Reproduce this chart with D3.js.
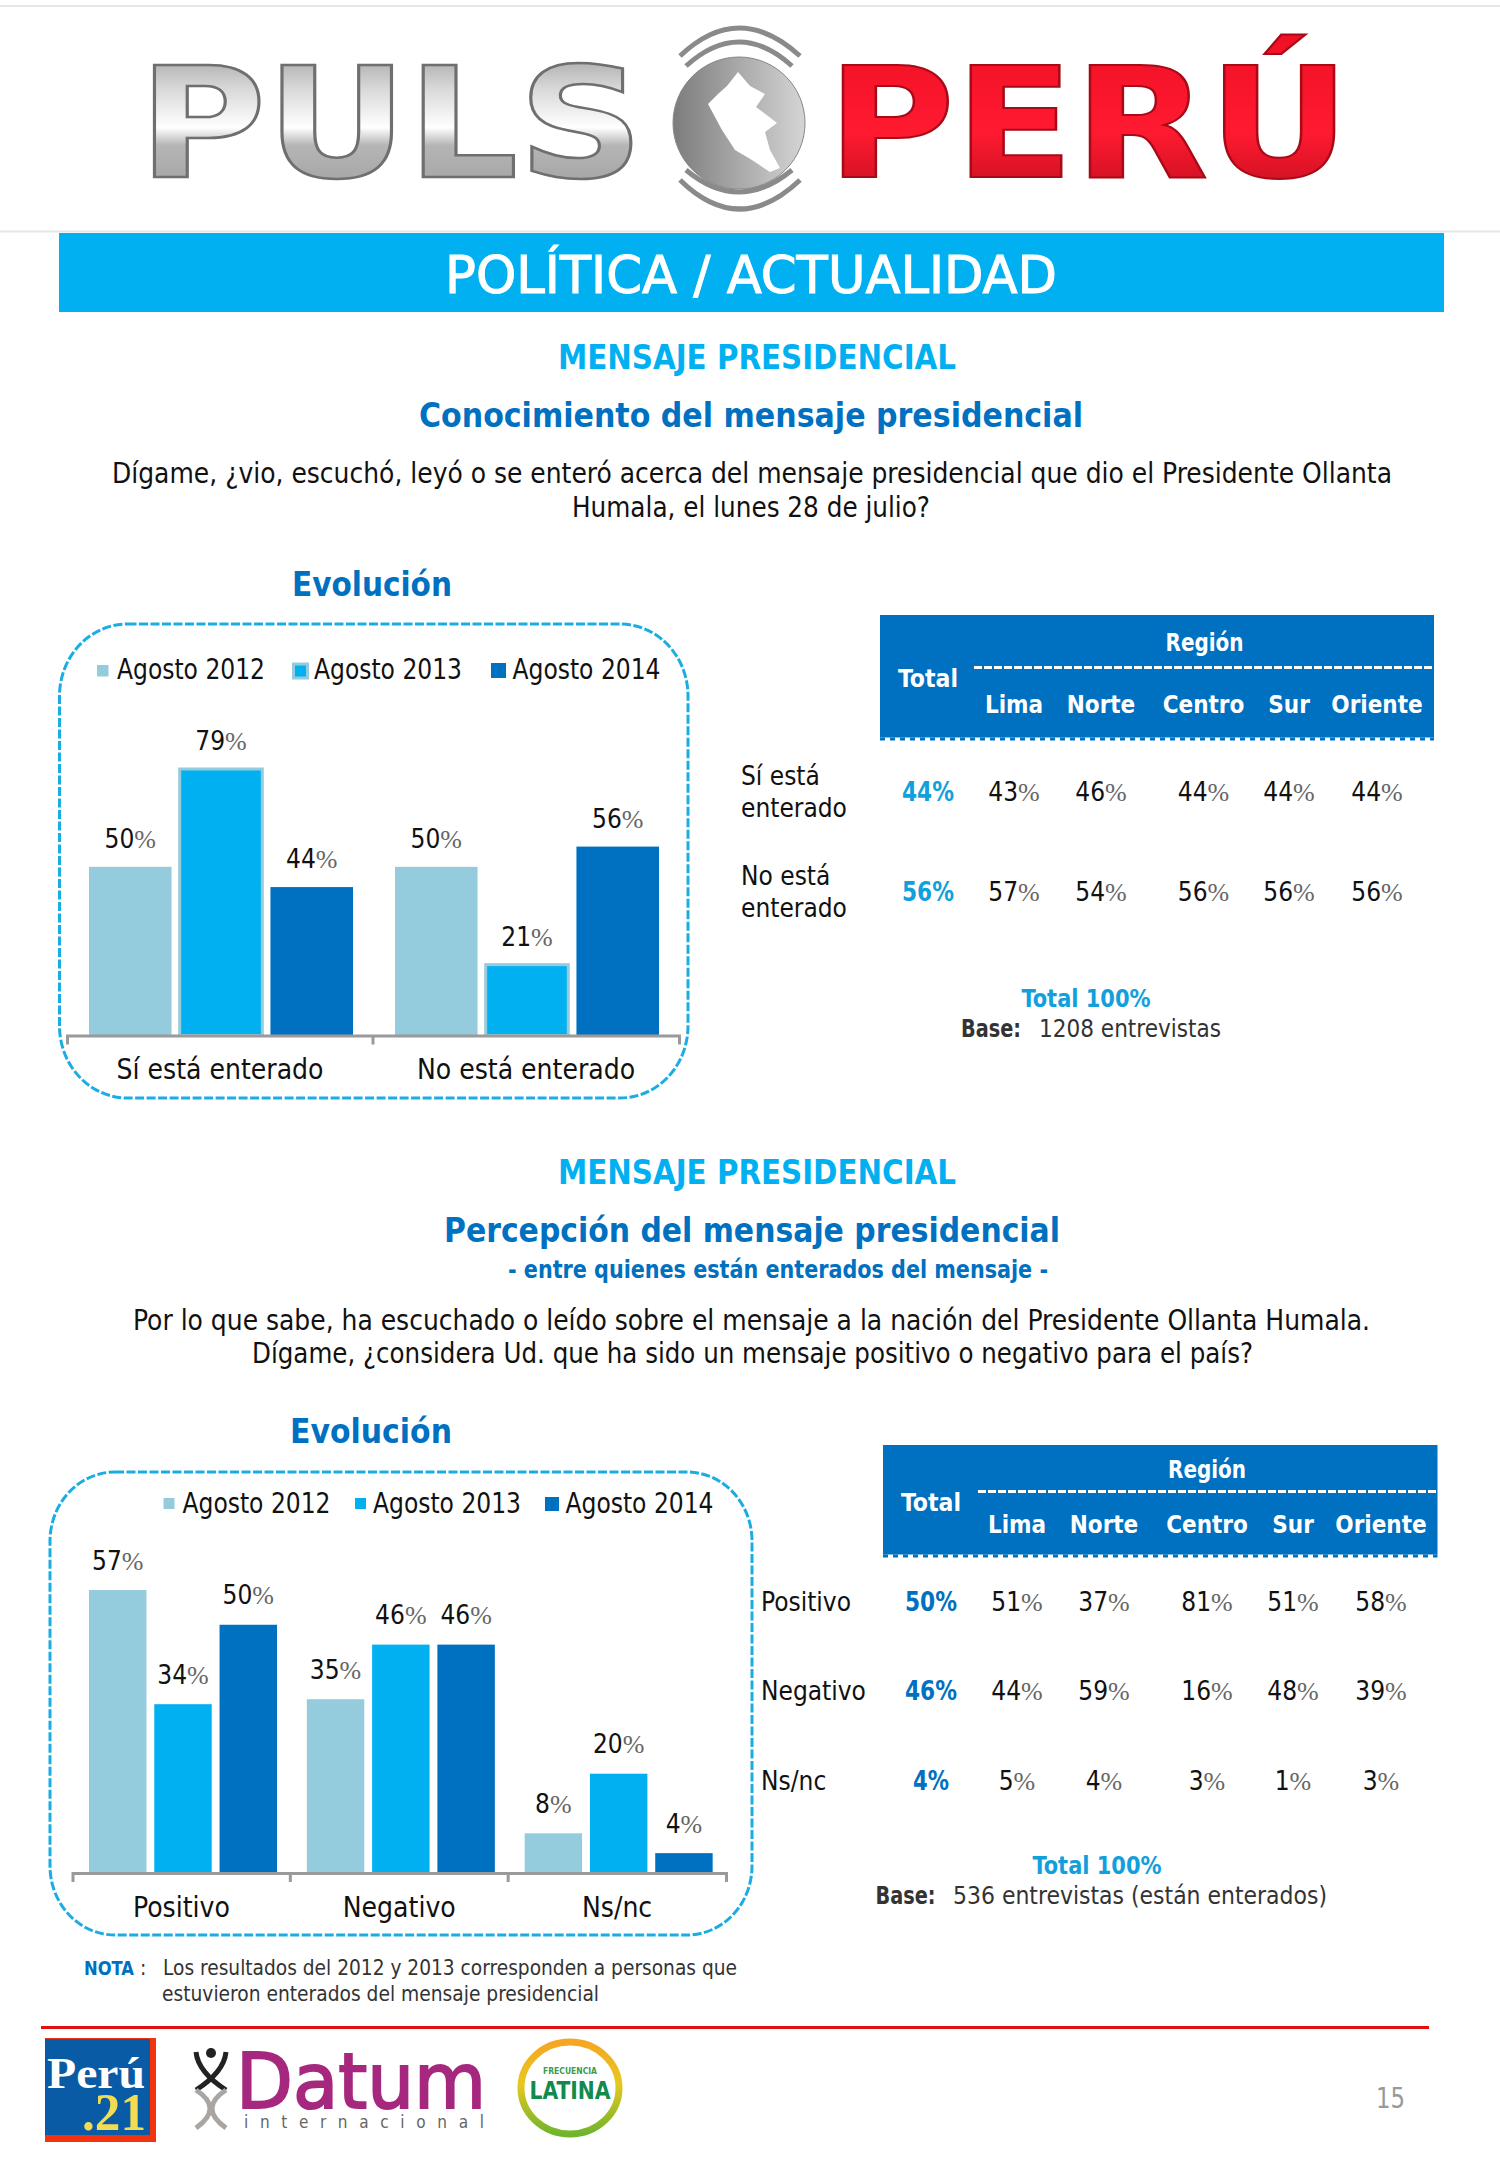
<!DOCTYPE html>
<html>
<head>
<meta charset="utf-8">
<script src="https://cdn.jsdelivr.net/npm/d3@7"></script>
<style>
  body { margin: 0; background: #fff; }
  text { font-family: "DejaVu Sans Condensed", "DejaVu Sans", "Noto Sans", sans-serif; }
</style>
</head>
<body>
<div id="page"></div>
<script>
// ---- data ----
var seriesNames = ["Agosto 2012", "Agosto 2013", "Agosto 2014"];
var seriesColors = ["#94cbdd", "#00b0f0", "#0070c0"];

var knowGroups = ["Sí está enterado", "No está enterado"];
var know2012 = [50, 50];
var know2013 = [79, 21];
var know2014 = [44, 56];

var percGroups = ["Positivo", "Negativo", "Ns/nc"];
var perc2012 = [57, 35, 8];
var perc2013 = [34, 46, 20];
var perc2014 = [50, 46, 4];

var regionNames = ["Lima", "Norte", "Centro", "Sur", "Oriente"];

var knowRowLabels = [["Sí está", "enterado"], ["No está", "enterado"]];
var knowTotal = [44, 56];
var knowRegion = [[43, 46, 44, 44, 44], [57, 54, 56, 56, 56]];

var percRowLabels = [["Positivo"], ["Negativo"], ["Ns/nc"]];
var percTotal = [50, 46, 4];
var percRegion = [[51, 37, 81, 51, 58], [44, 59, 16, 48, 39], [5, 4, 3, 1, 3]];

var darkBlue = "#0070c0";
var brightBlue = "#00b0f0";

var svg = d3.select("#page").append("svg")
    .attr("width", 1500)
    .attr("height", 2167)
    .style("display", "block");

var defs = svg.append("defs");

function gradient(id, stops, vertical) {
    var g = defs.append("linearGradient").attr("id", id)
        .attr("x1", 0).attr("y1", 0)
        .attr("x2", vertical ? 0 : 1).attr("y2", vertical ? 1 : 0);
    stops.forEach(function(s) {
        g.append("stop").attr("offset", s[0]).attr("stop-color", s[1]);
    });
}
gradient("metal", [[0, "#8d8d8d"], [0.3, "#d8d8d8"], [0.52, "#ffffff"], [0.62, "#b5b5b5"], [1, "#9a9a9a"]], true);
gradient("redmetal", [[0, "#f01025"], [0.55, "#ff1a30"], [1, "#b80c1c"]], true);
gradient("globe", [[0, "#7c7c7c"], [0.5, "#a9a9a9"], [1, "#d5d5d5"]], false);
gradient("ring", [[0, "#f5a623"], [0.45, "#e8c81e"], [1, "#6fb52c"]], true);

// plain text helper, width stretches the line to the measured width
function put(x, y, str, o) {
    o = o || {};
    var t = svg.append("text")
        .attr("x", x).attr("y", y)
        .attr("font-size", o.size || 26)
        .attr("fill", o.fill || "#111")
        .attr("font-weight", o.weight || "normal")
        .attr("text-anchor", o.anchor || "start")
        .text(str);
    if (o.width) t.attr("textLength", o.width).attr("lengthAdjust", "spacingAndGlyphs");
    return t;
}

// percent value: dark digits and a narrow grey percent sign
function putPct(parent, x, y, v, size) {
    var t = parent.append("text")
        .attr("x", x).attr("y", y)
        .attr("font-size", size)
        .attr("text-anchor", "middle")
        .attr("fill", "#111");
    t.append("tspan").text(v);
    t.append("tspan").attr("fill", "#666").attr("font-family", "'Liberation Sans Narrow'").text("%");
    return t;
}

// ---- header logo ----
svg.append("line").attr("x1", 0).attr("x2", 1500).attr("y1", 6).attr("y2", 6).attr("stroke", "#e6e6e6").attr("stroke-width", 2);
svg.append("line").attr("x1", 0).attr("x2", 1500).attr("y1", 231.5).attr("y2", 231.5).attr("stroke", "#e6e6e6").attr("stroke-width", 2);

put(138.5, 177, "PULS", {size: 153, weight: "bold", fill: "url(#metal)", width: 505}).attr("stroke", "#6f6f6f").attr("stroke-width", 2.5);
put(827, 177, "PERÚ", {size: 153, weight: "bold", fill: "url(#redmetal)", width: 523}).attr("stroke", "#a90a18").attr("stroke-width", 2);

svg.append("ellipse").attr("cx", 739).attr("cy", 123).attr("rx", 66).attr("ry", 66)
    .attr("fill", "url(#globe)").attr("stroke", "#888").attr("stroke-width", 1);
svg.append("path").attr("fill", "#fff")
    .attr("d", "M738,72 L750,86 L765,94 L756,107 L768,116 L777,123 L765,132 L770,150 L780,168 L770,172 L752,160 L735,150 L722,130 L708,104 L718,94 L727,86 Z");
["M680,56 Q739,0 800,56", "M686,66 Q739,18 792,66", "M680,180 Q739,238 800,180", "M686,170 Q739,214 792,170"].forEach(function(d) {
    svg.append("path").attr("d", d).attr("fill", "none").attr("stroke", "#8a8a8a").attr("stroke-width", 5);
});

// ---- banner and section titles ----
svg.append("rect").attr("x", 59).attr("y", 233).attr("width", 1385).attr("height", 79).attr("fill", brightBlue);
put(751, 293, "POLÍTICA / ACTUALIDAD", {size: 52, fill: "#fff", anchor: "middle", width: 612})
    .attr("stroke", "#fff").attr("stroke-width", 1);

put(757, 368.5, "MENSAJE PRESIDENCIAL", {size: 34, weight: "bold", fill: brightBlue, anchor: "middle", width: 398});
put(751, 427, "Conocimiento del mensaje presidencial", {size: 34, weight: "bold", fill: darkBlue, anchor: "middle", width: 664});
put(752, 483, "Dígame, ¿vio, escuchó, leyó o se enteró acerca del mensaje presidencial que dio el Presidente Ollanta", {size: 28, anchor: "middle", width: 1280});
put(751, 517, "Humala, el lunes 28 de julio?", {size: 28, anchor: "middle", width: 358});

put(757, 1184, "MENSAJE PRESIDENCIAL", {size: 34, weight: "bold", fill: brightBlue, anchor: "middle", width: 398});
put(752, 1241.5, "Percepción del mensaje presidencial", {size: 34, weight: "bold", fill: darkBlue, anchor: "middle", width: 616});
put(778, 1278, "- entre quienes están enterados del mensaje -", {size: 24, weight: "bold", fill: darkBlue, anchor: "middle", width: 540});
put(751.5, 1330, "Por lo que sabe, ha escuchado o leído sobre el mensaje a la nación del Presidente Ollanta Humala.", {size: 28, anchor: "middle", width: 1237});
put(752.5, 1363, "Dígame, ¿considera Ud. que ha sido un mensaje positivo o negativo para el país?", {size: 28, anchor: "middle", width: 1001});

// ---- grouped bar panels ----
function barPanel(cfg) {
    svg.append("rect")
        .attr("x", cfg.frame[0]).attr("y", cfg.frame[1])
        .attr("width", cfg.frame[2] - cfg.frame[0]).attr("height", cfg.frame[3] - cfg.frame[1])
        .attr("rx", cfg.rx).attr("ry", cfg.rx + 4)
        .attr("fill", "none").attr("stroke", "#1aade4")
        .attr("stroke-width", 3).attr("stroke-dasharray", "9 2.5");

    put(cfg.title[0], cfg.title[1], "Evolución", {size: 34, weight: "bold", fill: darkBlue, width: cfg.title[2]});

    var x0 = d3.scaleBand().domain(cfg.groups).range(cfg.axisX);
    var x1 = d3.scaleBand().domain(seriesNames).range(cfg.inner).paddingInner(cfg.pad);
    var y = d3.scaleLinear().domain([0, d3.max(cfg.values, function(s) { return d3.max(s); })]).range([cfg.base, cfg.top]);

    // legend
    seriesNames.forEach(function(name, i) {
        var l = cfg.legend[i];
        svg.append("rect").attr("x", l[0]).attr("y", l[1]).attr("width", l[2]).attr("height", l[2])
            .attr("fill", seriesColors[i])
            .attr("stroke", (cfg.edged && i == 1) ? seriesColors[0] : "none")
            .attr("stroke-width", 3);
        put(l[3], cfg.legendY, name, {size: 28, width: 148});
    });

    // bars
    cfg.groups.forEach(function(group, g) {
        var gx = svg.append("g").attr("transform", "translate(" + x0(group) + ",0)");
        seriesNames.forEach(function(name, i) {
            var v = cfg.values[i][g];
            gx.append("rect")
                .attr("x", x1(name))
                .attr("y", y(v))
                .attr("width", x1.bandwidth())
                .attr("height", cfg.base - y(v))
                .attr("fill", seriesColors[i])
                .attr("stroke", (cfg.edged && i == 1) ? seriesColors[0] : "none")
                .attr("stroke-width", 3);
            putPct(gx, x1(name) + x1.bandwidth() / 2, y(v) - cfg.labelGap, v, 26);
        });
    });

    // axis: outer ticks from the axis itself, inner ticks on the band edges
    var axis = svg.append("g")
        .attr("transform", "translate(0," + cfg.base + ")")
        .call(d3.axisBottom(x0).tickSizeInner(0).tickSizeOuter(9));
    axis.select(".domain").attr("stroke", "#9a9a9a").attr("stroke-width", 3);
    axis.selectAll(".tick line").remove();
    axis.selectAll(".tick text")
        .attr("y", cfg.labelDy).attr("dy", 0)
        .attr("font-size", 28).attr("fill", "#111");
    axis.attr("font-family", null);
    cfg.groups.slice(1).forEach(function(group) {
        axis.append("line").attr("x1", x0(group)).attr("x2", x0(group)).attr("y1", 0).attr("y2", 9)
            .attr("stroke", "#9a9a9a").attr("stroke-width", 3);
    });
}

barPanel({
    groups: knowGroups,
    values: [know2012, know2013, know2014],
    frame: [59.5, 624, 688, 1098], rx: 68,
    title: [292, 596, 160],
    axisX: [67, 679], inner: [22, 286], pad: 0.09,
    base: 1035.5, top: 769, labelDy: 43.5, labelGap: 19,
    legend: [[97, 665, 11.5, 117], [293.5, 664, 14, 314], [491, 663, 15, 512.5]], legendY: 679,
    edged: true
});

barPanel({
    groups: percGroups,
    values: [perc2012, perc2013, perc2014],
    frame: [50, 1472, 752, 1935], rx: 65,
    title: [290, 1442.5, 162],
    axisX: [72.5, 726], inner: [16.5, 204.5], pad: 0.12,
    base: 1873, top: 1590, labelDy: 43.5, labelGap: 20.5,
    legend: [[163.5, 1498, 11, 182.5], [355, 1498, 11, 373], [545, 1497, 14, 565.5]], legendY: 1513,
    edged: false
});

// ---- region tables ----
function regionTable(cfg) {
    svg.append("rect").attr("x", cfg.rect[0]).attr("y", cfg.rect[1])
        .attr("width", cfg.rect[2] - cfg.rect[0]).attr("height", cfg.rect[3] - cfg.rect[1])
        .attr("fill", darkBlue);
    svg.append("line").attr("x1", cfg.dashX).attr("x2", cfg.rect[2]).attr("y1", cfg.dashY).attr("y2", cfg.dashY)
        .attr("stroke", "#fff").attr("stroke-width", 3).attr("stroke-dasharray", "8 2");
    svg.append("line").attr("x1", cfg.rect[0]).attr("x2", cfg.rect[2]).attr("y1", cfg.rect[3] + 1.5).attr("y2", cfg.rect[3] + 1.5)
        .attr("stroke", darkBlue).attr("stroke-width", 3).attr("stroke-dasharray", "5 5");

    var x = d3.scaleOrdinal().domain(regionNames).range(cfg.cols);

    put(cfg.regionX, cfg.regionY, "Región", {size: 24, weight: "bold", fill: "#fff", anchor: "middle", width: 78});
    put(cfg.totalX, cfg.totalY, "Total", {size: 24, weight: "bold", fill: "#fff", anchor: "middle", width: 60});
    regionNames.forEach(function(r) {
        put(x(r), cfg.subY, r, {size: 24, weight: "bold", fill: "#fff", anchor: "middle"});
    });

    cfg.labels.forEach(function(lines, i) {
        lines.forEach(function(line, k) {
            put(cfg.labelX, cfg.labelY[i] + k * 32, line, {size: 26});
        });
        put(cfg.totalX, cfg.valueY[i], cfg.total[i] + "%", {size: 26, weight: "bold", fill: cfg.totalColor, anchor: "middle",
            width: cfg.total[i] > 9 ? 52 : 36});
        regionNames.forEach(function(r, j) {
            putPct(svg, x(r), cfg.valueY[i], cfg.region[i][j], 26);
        });
    });

    put(cfg.noteX, cfg.noteY, "Total 100%", {size: 24, weight: "bold", fill: "#12a0dc", anchor: "middle", width: 129});
    put(cfg.baseX, cfg.noteY + 30, "Base:", {size: 24, weight: "bold", fill: "#333", width: 60});
    put(cfg.baseTextX, cfg.noteY + 30, cfg.baseText, {size: 24, fill: "#333", width: cfg.baseTextW});
}

regionTable({
    rect: [880, 615, 1434, 737.5], dashX: 974, dashY: 667.5,
    cols: [1014, 1101, 1203.5, 1289, 1377],
    regionX: 1204.5, regionY: 650.5, totalX: 928, totalY: 686.5, subY: 712.5,
    labels: knowRowLabels, labelX: 741, labelY: [785, 885],
    valueY: [801, 901], total: knowTotal, region: knowRegion, totalColor: "#12a0dc",
    noteX: 1086, noteY: 1007, baseX: 961, baseTextX: 1039, baseText: "1208 entrevistas", baseTextW: 182
});

regionTable({
    rect: [883, 1445, 1437.5, 1554.5], dashX: 978, dashY: 1491.5,
    cols: [1017, 1104, 1207, 1293, 1381],
    regionX: 1207, regionY: 1478, totalX: 931, totalY: 1510.5, subY: 1533,
    labels: percRowLabels, labelX: 761, labelY: [1611, 1700, 1790],
    valueY: [1611, 1700, 1790], total: percTotal, region: percRegion, totalColor: darkBlue,
    noteX: 1097, noteY: 1874, baseX: 875.5, baseTextX: 953, baseText: "536 entrevistas (están enterados)", baseTextW: 374
});

// ---- note ----
put(84, 1975, "NOTA", {size: 20, weight: "bold", fill: darkBlue, width: 50});
put(140, 1975, ":", {size: 21, fill: "#333"});
put(163, 1975, "Los resultados del 2012 y 2013 corresponden a personas que", {size: 21, fill: "#333", width: 574});
put(162, 2000.5, "estuvieron enterados del mensaje presidencial", {size: 21, fill: "#333", width: 437});

// ---- footer ----
svg.append("line").attr("x1", 41).attr("x2", 1429).attr("y1", 2027.5).attr("y2", 2027.5).attr("stroke", "#e21010").attr("stroke-width", 3);

svg.append("rect").attr("x", 45).attr("y", 2038).attr("width", 111).attr("height", 104).attr("fill", "#f2330f");
svg.append("rect").attr("x", 45).attr("y", 2039).attr("width", 105).attr("height", 96).attr("fill", "#0a5ba5");
put(47, 2088, "Perú", {size: 44, fill: "#fff", weight: "bold", width: 98}).style("font-family", "'Liberation Serif'");
put(82, 2130, ".21", {size: 52, fill: "#f3dc50", weight: "bold", width: 64}).style("font-family", "'Liberation Serif'");

// dna mark
svg.append("circle").attr("cx", 211).attr("cy", 2053).attr("r", 5).attr("fill", "#222");
svg.append("path").attr("d", "M196,2052 Q198,2072 226,2090 M226,2052 Q224,2072 196,2090")
    .attr("fill", "none").attr("stroke", "#222").attr("stroke-width", 5);
svg.append("path").attr("d", "M196,2090 Q224,2108 196,2128 M226,2090 Q198,2108 226,2128")
    .attr("fill", "none").attr("stroke", "#a9a5a2").attr("stroke-width", 5);

put(236, 2108, "Datum", {size: 76, fill: "#a6287e", width: 250}).style("font-family", "'DejaVu Sans'")
    .attr("stroke", "#a6287e").attr("stroke-width", 2);
put(244, 2128, "internacional", {size: 17, fill: "#666", width: 240}).attr("lengthAdjust", "spacing");

svg.append("ellipse").attr("cx", 570).attr("cy", 2088).attr("rx", 49).attr("ry", 46)
    .attr("fill", "#fff").attr("stroke", "url(#ring)").attr("stroke-width", 7);
put(570, 2074, "FRECUENCIA", {size: 8, weight: "bold", fill: "#3d9b4c", anchor: "middle", width: 54});
put(570, 2099, "LATINA", {size: 25, weight: "bold", fill: "#128a4e", anchor: "middle", width: 81});

put(1390.5, 2108, "15", {size: 28, fill: "#999", anchor: "middle", width: 29});
</script>
</body>
</html>
